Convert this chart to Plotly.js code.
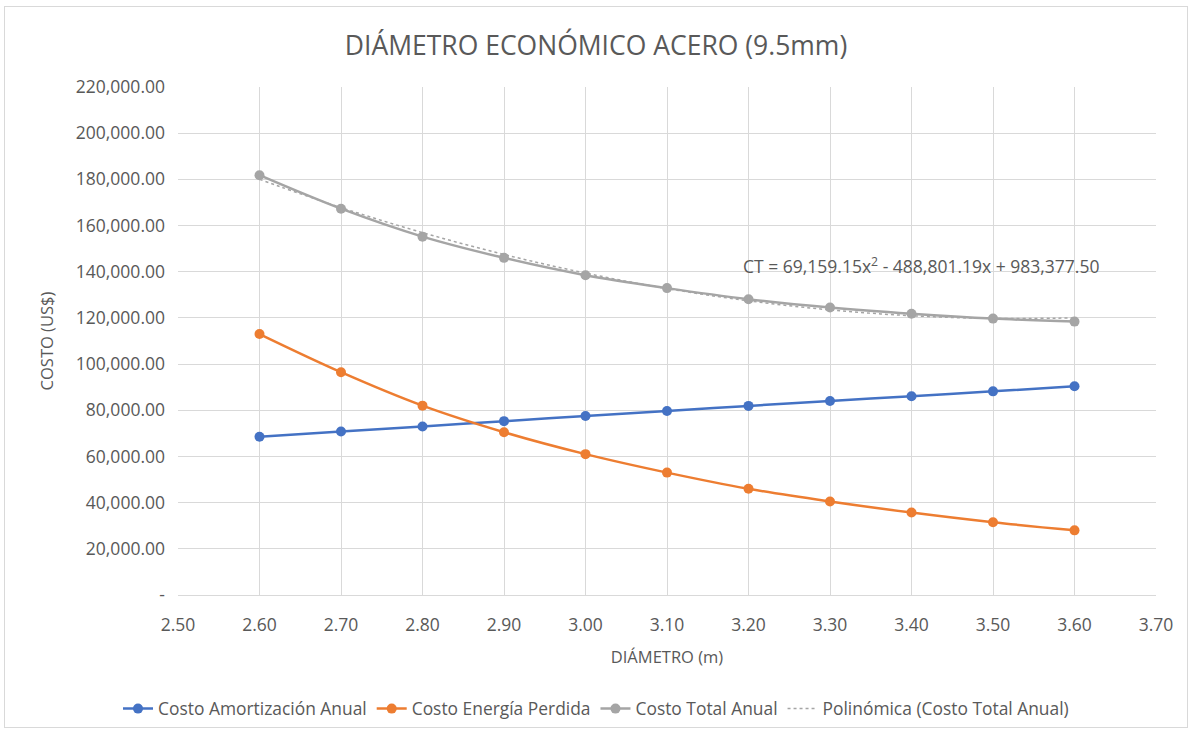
<!DOCTYPE html>
<html>
<head>
<meta charset="utf-8">
<script src="https://cdn.plot.ly/plotly-3.0.1.min.js"></script>
<style>
html,body{margin:0;padding:0;background:#fff;}
#frame{position:absolute;left:4px;top:6px;width:1184px;height:722px;border:1px solid #d9d9d9;box-sizing:border-box;}
#chart{position:absolute;left:0;top:0;width:1192px;height:733px;}
</style>
</head>
<body>
<div id="frame"></div>
<div id="chart"></div>
<script>
var diametro = [2.60, 2.70, 2.80, 2.90, 3.00, 3.10, 3.20, 3.30, 3.40, 3.50, 3.60];
var costoAmortizacion = [68500, 70800, 73000, 75300, 77500, 79700, 81900, 84000, 86100, 88200, 90400];
var costoEnergia = [113000, 96500, 82000, 70500, 61000, 53000, 46000, 40500, 35700, 31500, 28000];
var costoTotal = [181800, 167300, 155200, 146000, 138500, 132900, 128100, 124500, 121800, 119700, 118400];
var polinomica = [180010, 167780, 156940, 147480, 139410, 132710, 127400, 123480, 120930, 119770, 120000];
var yTickVals = [0, 20000, 40000, 60000, 80000, 100000, 120000, 140000, 160000, 180000, 200000, 220000];
var yTickText = ["-", "20,000.00", "40,000.00", "60,000.00", "80,000.00", "100,000.00", "120,000.00", "140,000.00", "160,000.00", "180,000.00", "200,000.00", "220,000.00"];
var xTickVals = [2.50, 2.60, 2.70, 2.80, 2.90, 3.00, 3.10, 3.20, 3.30, 3.40, 3.50, 3.60, 3.70];
var xTickText = ["2.50", "2.60", "2.70", "2.80", "2.90", "3.00", "3.10", "3.20", "3.30", "3.40", "3.50", "3.60", "3.70"];

var FONT = "Open Sans, Liberation Sans, sans-serif";
var TXT = "#595959";

var traces = [
  {x: diametro, y: costoAmortizacion, name: "Costo Amortización Anual", type: "scatter", mode: "lines+markers",
   line: {color: "#4472C4", width: 2.5, shape: "spline"}, marker: {color: "#4472C4", size: 10}},
  {x: diametro, y: costoEnergia, name: "Costo Energía Perdida", type: "scatter", mode: "lines+markers",
   line: {color: "#ED7D31", width: 2.5, shape: "spline"}, marker: {color: "#ED7D31", size: 10}},
  {x: diametro, y: costoTotal, name: "Costo Total Anual", type: "scatter", mode: "lines+markers",
   line: {color: "#A5A5A5", width: 2.5, shape: "spline"}, marker: {color: "#A5A5A5", size: 10}},
  {x: diametro, y: polinomica, name: "Polinómica (Costo Total Anual)", type: "scatter", mode: "lines",
   line: {color: "#A5A5A5", width: 1.5, dash: "dot", shape: "spline"}}
];

var layout = {
  width: 1192, height: 733,
  paper_bgcolor: "rgba(0,0,0,0)", plot_bgcolor: "#fff",
  margin: {l: 178, r: 36, t: 87, b: 138, autoexpand: false},
  font: {family: FONT, color: TXT, size: 17},
  title: {text: "DIÁMETRO ECONÓMICO ACERO (9.5mm)", font: {family: FONT, size: 26.5, color: TXT}, x: 0.5, xanchor: "center", y: 0.938, yanchor: "middle"},
  xaxis: {range: [2.50, 3.70], tickvals: xTickVals, ticktext: xTickText, showgrid: true, gridcolor: "#d9d9d9", gridwidth: 1,
          zeroline: false, showline: true, linecolor: "#d9d9d9", ticks: "", ticklabelstandoff: 14, tickfont: {size: 17.5, color: TXT},
          title: {text: "DIÁMETRO (m)", font: {size: 16.5, color: TXT}, standoff: 16}},
  yaxis: {range: [0, 220000], tickvals: yTickVals, ticktext: yTickText, showgrid: true, gridcolor: "#d9d9d9", gridwidth: 1,
          zeroline: false, showline: false, ticks: "", ticklabelstandoff: 12, tickfont: {size: 17.5, color: TXT},
          title: {text: "COSTO (US$)", font: {size: 16.5, color: TXT}, standoff: 18}},
  showlegend: true,
  legend: {orientation: "h", xref: "container", yref: "container", x: 0.5, xanchor: "center", y: 0.033, yanchor: "middle",
           font: {size: 17.4, color: TXT}},
  annotations: [{xref: "paper", yref: "paper", x: 0.76, y: 0.649, xanchor: "center", yanchor: "middle", showarrow: false,
                 text: "CT = 69,159.15x<sup>2</sup> - 488,801.19x + 983,377.50", font: {size: 17.5, color: TXT}}]
};

Plotly.newPlot("chart", traces, layout, {displayModeBar: false, staticPlot: true});
</script>
</body>
</html>
